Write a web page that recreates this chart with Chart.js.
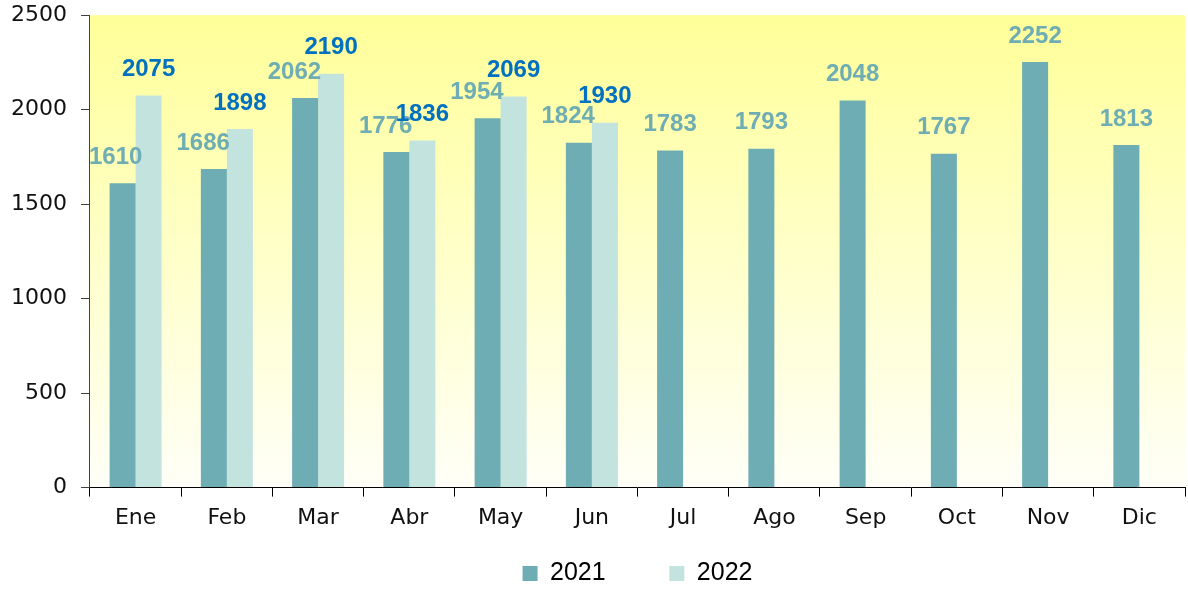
<!DOCTYPE html>
<html>
<head>
<meta charset="utf-8">
<script src="https://cdn.jsdelivr.net/npm/chart.js@4"></script>
<style>
    html, body {
        margin: 0;
        padding: 0;
        background: #ffffff;
    }
    #wrap {
        width: 1188px;
        height: 590px;
    }
</style>
</head>
<body>
<div id="wrap"><canvas id="ventas"></canvas></div>
<script>
const meses = ["Ene", "Feb", "Mar", "Abr", "May", "Jun", "Jul", "Ago", "Sep", "Oct", "Nov", "Dic"];
const valores2021 = [1610, 1686, 2062, 1776, 1954, 1824, 1783, 1793, 2048, 1767, 2252, 1813];
const valores2022 = [2075, 1898, 2190, 1836, 2069, 1930, null, null, null, null, null, null];
const ticksY = [0, 500, 1000, 1500, 2000, 2500];

// fondo degradado amarillo dentro del area del grafico
const fondo = {
    id: "fondo",
    beforeDraw(chart) {
        const ctx = chart.ctx;
        const a = chart.chartArea;
        const g = ctx.createLinearGradient(0, a.top, 0, a.bottom);
        g.addColorStop(0, "#ffff99");
        g.addColorStop(1, "#fffff8");
        ctx.save();
        ctx.fillStyle = g;
        ctx.fillRect(a.left, a.top, a.right - a.left, a.bottom - a.top);
        ctx.restore();
    }
};

// etiquetas de valor encima de cada barra
const etiquetas = {
    id: "etiquetas",
    afterDatasetsDraw(chart) {
        const ctx = chart.ctx;
        const a = chart.chartArea;
        ctx.save();
        ctx.font = "bold 24px 'Liberation Sans', Arial, sans-serif";
        ctx.textBaseline = "middle";
        chart.data.datasets.forEach((ds, i) => {
            const meta = chart.getDatasetMeta(i);
            meta.data.forEach((bar, j) => {
                const v = ds.data[j];
                if (v === null || v === undefined) return;
                const txt = String(v);
                ctx.fillStyle = i === 0 ? "#6eadb3" : "#0070c0";
                let x = bar.x;
                ctx.textAlign = "center";
                if (i === 0 && valores2022[j] !== null) {
                    const w = ctx.measureText(txt).width;
                    x = Math.max(bar.x + bar.width / 2 + 3, a.left - 1 + w);
                    ctx.textAlign = "right";
                }
                ctx.fillText(txt, x, bar.y - 26);
            });
        });
        ctx.restore();
    }
};

window.addEventListener("DOMContentLoaded", () => {
    new Chart(document.getElementById("ventas"), {
        type: "bar",
        data: {
            labels: meses,
            datasets: [{
                label: "2021      ",
                backgroundColor: "#6eadb3",
                data: valores2021
            },
                {
                    label: "2022",
                    backgroundColor: "#c3e3df",
                    data: valores2022
                }]
        },
        options: {
            responsive: true,
            maintainAspectRatio: false,
            animation: false,
            categoryPercentage: 0.57,
            barPercentage: 1.0,
            layout: {
                padding: {left: -3, right: 3, top: 0, bottom: 0}
            },
            plugins: {
                legend: {
                    position: "bottom",
                    fullSize: false,
                    maxHeight: 51,
                    labels: {
                        boxWidth: 15,
                        boxHeight: 15,
                        padding: 22,
                        color: "#000000",
                        font: {family: "'Liberation Sans', Arial, sans-serif", size: 25}
                    }
                },
                tooltip: {enabled: false}
            },
            scales: {
                x: {
                    grid: {
                        drawOnChartArea: false,
                        tickLength: 9,
                        color: "#000000"
                    },
                    border: {color: "#000000", width: 1},
                    ticks: {
                        color: "#111111",
                        padding: 8,
                        font: {family: "'DejaVu Sans', sans-serif", size: 22}
                    }
                },
                y: {
                    min: 0,
                    max: 2500,
                    afterBuildTicks(scale) {
                        scale.ticks = ticksY.map(v => ({value: v}));
                    },
                    grid: {
                        drawOnChartArea: false,
                        tickLength: 9,
                        color: "#404040"
                    },
                    border: {color: "#404040", width: 1},
                    ticks: {
                        color: "#111111",
                        padding: 14,
                        font: {family: "'DejaVu Sans', sans-serif", size: 22, lineHeight: 0.1},
                        callback: v => String(v)
                    }
                }
            }
        },
        plugins: [fondo, etiquetas]
    });
});
</script>
</body>
</html>
